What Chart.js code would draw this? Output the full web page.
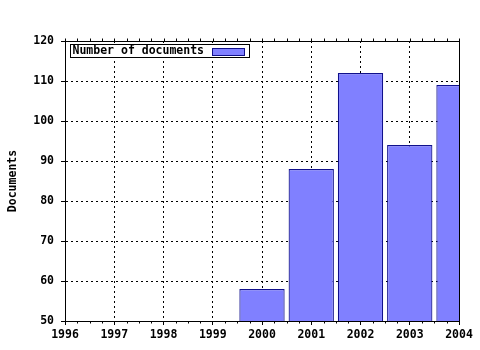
<!DOCTYPE html>
<html><head><meta charset="utf-8">
<script src="https://cdn.jsdelivr.net/npm/chart.js@4/dist/chart.umd.min.js"></script>
<style>html,body{margin:0;padding:0;background:#fff;} #wrap{width:480px;height:350px;}</style>
</head><body><div id="wrap"><canvas id="c" width="480" height="350"></canvas></div>
<script>
const years = [2000, 2001, 2002, 2003, 2004];
const documents = [58, 88, 112, 94, 109];
const seriesLabel = 'Number of documents';
const yAxisTitle = 'Documents';
const xRange = [1996, 2004];
const yRange = [50, 120];
const yStep = 10;
const xMinorStep = 0.25;

const FONT = {family: '"DejaVu Sans Mono", "Liberation Mono", monospace', size: 11.5, weight: 'bold'};
const FILL = '#8080ff';
const EDGE = '#10108c';

function al(v){ return Math.round(v) + 0.5; }

const framePlugin = {
  id: 'frame',
  afterDatasetsDraw(chart) {
    const {ctx, chartArea: a, scales: {x}} = chart;
    ctx.save();
    ctx.strokeStyle = '#000';
    ctx.lineWidth = 1;
    ctx.setLineDash([]);
    ctx.beginPath();
    ctx.moveTo(al(a.left), al(a.top));
    ctx.lineTo(al(a.right), al(a.top));
    ctx.lineTo(al(a.right), al(a.bottom));
    for (let v = xRange[0]; v <= xRange[1] + 1e-9; v += xMinorStep) {
      const px = al(x.getPixelForValue(v));
      ctx.moveTo(px, al(a.top));
      ctx.lineTo(px, al(a.top) - 3);
      if (Math.abs(v - Math.round(v)) > 1e-9) {
        ctx.moveTo(px, al(a.bottom));
        ctx.lineTo(px, al(a.bottom) + 2);
      }
    }
    ctx.stroke();
    ctx.restore();
  },
  afterDraw(chart) {
    const {ctx, chartArea: a} = chart;
    const ds = chart.data.datasets[0];
    ctx.save();
    ctx.font = `${FONT.weight} ${FONT.size}px ${FONT.family}`;
    const tw = ctx.measureText(ds.label).width;
    const bx = al(a.left + 5), by = al(a.top + 3);
    const padL = 2, gap = 8, sw = 32, sh = 7, padR = 5, bh = 13;
    const bw = Math.round(padL + tw + gap + sw + padR);
    ctx.fillStyle = '#fff';
    ctx.fillRect(bx, by, bw, bh);
    ctx.strokeStyle = '#000';
    ctx.lineWidth = 1;
    ctx.strokeRect(bx, by, bw, bh);
    ctx.fillStyle = '#000';
    ctx.textBaseline = 'middle';
    ctx.textAlign = 'left';
    ctx.fillText(ds.label, bx + padL, by + bh / 2 + 0.5);
    const sx = Math.round(bx + padL + tw + gap) + 0.5;
    const sy = Math.round(by + (bh - sh) / 2) + 0.5;
    ctx.fillStyle = ds.backgroundColor;
    ctx.fillRect(sx, sy, sw, sh);
    ctx.strokeStyle = ds.borderColor;
    ctx.strokeRect(sx, sy, sw, sh);
    ctx.restore();
  }
};

new Chart(document.getElementById('c'), {
  type: 'bar',
  data: {
    datasets: [{
      label: seriesLabel,
      data: years.map((y, i) => ({x: y, y: documents[i]})),
      backgroundColor: FILL,
      borderColor: EDGE,
      borderWidth: 1.2,
      categoryPercentage: 1,
      barPercentage: 0.92,
      clip: 0
    }]
  },
  options: {
    responsive: false,
    animation: false,
    layout: {padding: {left: 0, right: 21, top: 41, bottom: 0}},
    plugins: {legend: {display: false}, tooltip: {enabled: false}},
    scales: {
      x: {
        type: 'linear',
        offset: false,
        min: xRange[0], max: xRange[1],
        afterFit(s) { s.height = 29; },
        ticks: {
          stepSize: 1, autoSkip: false, maxRotation: 0, minRotation: 0,
          color: '#000', font: FONT, padding: 3,
          callback: v => String(v)
        },
        grid: {offset: false, color: '#000', tickColor: '#000', tickLength: 4, lineWidth: 1},
        border: {color: '#000', width: 1, dash: [2, 3]}
      },
      y: {
        min: yRange[0], max: yRange[1],
        afterFit(s) { s.width = 65; },
        ticks: {stepSize: yStep, color: '#000', font: FONT, padding: 7},
        grid: {color: '#000', tickColor: '#000', tickLength: 4, lineWidth: 1},
        border: {color: '#000', width: 1, dash: [2, 3]},
        title: {display: true, text: yAxisTitle, color: '#000', font: FONT, padding: {top: 6, bottom: 0}}
      }
    }
  },
  plugins: [framePlugin]
});
</script></body></html>
